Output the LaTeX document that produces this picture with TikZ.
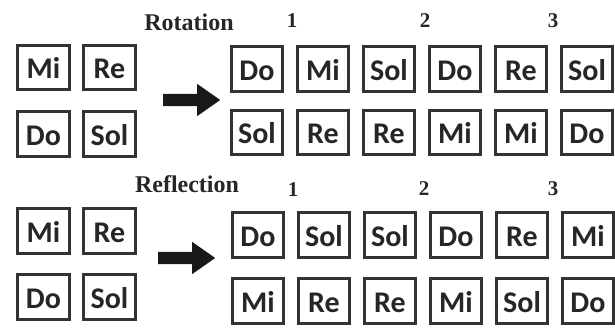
\documentclass[tikz,border=0pt]{standalone}
\usepackage{fontspec}
\setmainfont{Liberation Serif}
\newfontfamily\boxfont{Carlito}
\usetikzlibrary{shapes.arrows}
\begin{document}
\begin{tikzpicture}[x=1pt,y=-1pt,
 note/.style={draw=black!80, line width=2.6pt, fill=white, minimum width=51.5pt, minimum height=44.5pt, inner sep=0pt, text height=23pt, text depth=0pt, font=\boxfont\bfseries\fontsize{30}{31}\selectfont, text=black!85},
 title/.style={font=\bfseries\fontsize{24}{25}\selectfont, text=black!85, inner sep=0pt},
 num/.style={font=\bfseries\fontsize{21}{22}\selectfont, text=black!85, inner sep=0pt},
 bigarrow/.style={single arrow, fill=black!90, draw=none, minimum height=57pt, minimum width=32pt, inner xsep=0pt, inner ysep=6pt, single arrow head extend=10pt, single arrow tip angle=70, anchor=tail}]
\useasboundingbox (0,0) rectangle (615,328);
% ---------- Rotation ----------
\node[title] (rot) at (189,22) {Rotation};
\node[num] (r1) at (292,21) {1};
\node[num] (r2) at (425,21) {2};
\node[num] (r3) at (553,21) {3};
\node[note] (ta) at (43.5,67.5) {Mi};
\node[note] (tb) at (109.5,67.5) {Re};
\node[note] (tc) at (43.5,134) {Do};
\node[note] (td) at (109.5,134) {Sol};
\node[bigarrow] (tarrow) at (163,100) {};
\foreach \t [count=\i] in {Do,Mi,Sol,Do,Re,Sol}
  \node[note] (tu\i) at ({257+66*(\i-1)},69) {\t};
\foreach \t [count=\i] in {Sol,Re,Re,Mi,Mi,Do}
  \node[note] (tl\i) at ({257+66*(\i-1)},132.5) {\t};
% ---------- Reflection ----------
\node[title] (ref) at (187,184) {Reflection};
\node[num] (f1) at (293,190) {1};
\node[num] (f2) at (424,189) {2};
\node[num] (f3) at (553,189) {3};
\node[note] (ba) at (43.5,231) {Mi};
\node[note] (bb) at (109.5,231) {Re};
\node[note] (bc) at (43.5,297) {Do};
\node[note] (bd) at (109.5,297) {Sol};
\node[bigarrow] (barrow) at (158,258) {};
\foreach \t [count=\i] in {Do,Sol,Sol,Do,Re,Mi}
  \node[note] (bu\i) at ({258+66*(\i-1)},235) {\t};
\foreach \t [count=\i] in {Mi,Re,Re,Mi,Sol,Do}
  \node[note] (bl\i) at ({258+66*(\i-1)},301) {\t};
\end{tikzpicture}
\end{document}
